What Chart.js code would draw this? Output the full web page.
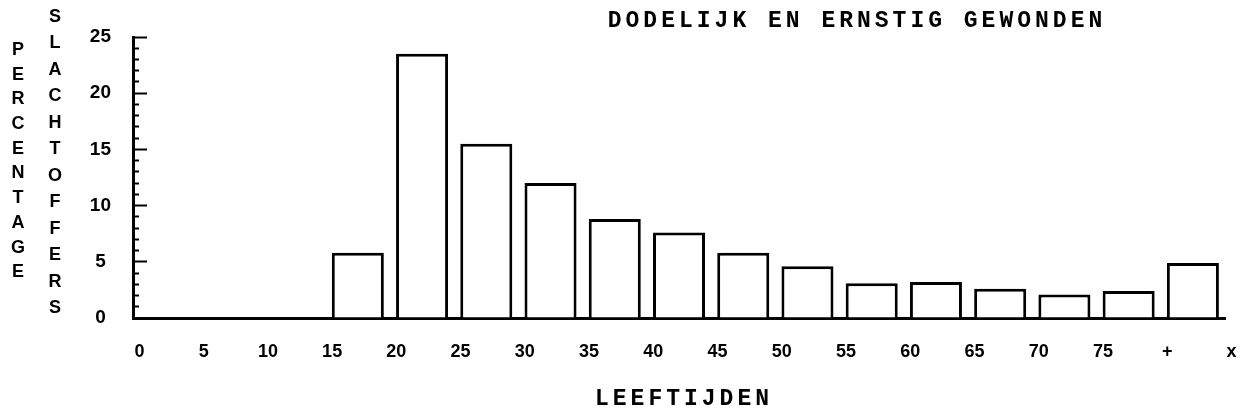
<!DOCTYPE html>
<html>
<head>
<meta charset="utf-8">
<script src="https://cdn.jsdelivr.net/npm/chart.js@4.4.1/dist/chart.umd.min.js"></script>
<style>
  html, body { margin: 0; padding: 0; background: #fff; }
</style>
</head>
<body>
<canvas id="myChart" width="1245" height="419"></canvas>
<script>
// age groups (5-year bins) and share of killed / seriously injured, in %
const ageGroups = ['0-4', '5-9', '10-14', '15-19', '20-24', '25-29', '30-34', '35-39', '40-44',
                   '45-49', '50-54', '55-59', '60-64', '65-69', '70-74', '75-79', '80+'];
const percentages = [0, 0, 0, 5.8, 23.5, 15.5, 12.0, 8.8, 7.6, 5.8, 4.6, 3.1, 3.2, 2.6, 2.1, 2.4, 4.9];

// tick labels on the bin edges
const xTickValues = [0, 5, 10, 15, 20, 25, 30, 35, 40, 45, 50, 55, 60, 65, 70, 75, 80, 85];
const xTickLabels = ['0', '5', '10', '15', '20', '25', '30', '35', '40', '45', '50', '55', '60', '65', '70', '75', '+', 'x'];

const chartTitle = 'DODELIJK EN ERNSTIG GEWONDEN';
const xTitle = 'LEEFTIJDEN';
const yTitleLeft = 'PERCENTAGE';
const yTitleRight = 'SLACHTOFFERS';

// titles: letter-spaced typewriter style and stacked vertical letters
const textPlugin = {
  id: 'textLabels',
  afterDraw(chart) {
    const ctx = chart.ctx;
    ctx.save();
    ctx.fillStyle = '#000';
    ctx.textAlign = 'center';
    ctx.textBaseline = 'middle';
    ctx.font = 'bold 18px "Liberation Sans", Arial, sans-serif';
    yTitleLeft.split('').forEach((ch, i) => ctx.fillText(ch, 18, 50 + i * 24.7));
    yTitleRight.split('').forEach((ch, i) => ctx.fillText(ch, 55, 17 + i * 26.5));
    ctx.font = 'bold 23px "Liberation Mono", monospace';
    ctx.letterSpacing = '4px';
    ctx.fillText(chartTitle, 857, 21);
    ctx.fillText(xTitle, 684, 399);
    ctx.restore();
  }
};

const ctx = document.getElementById('myChart').getContext('2d');
const chart = new Chart(ctx, {
  type: 'bar',
  data: {
    labels: ageGroups,
    datasets: [{
      data: percentages,
      xAxisID: 'xb',
      yAxisID: 'y',
      backgroundColor: '#fff',
      borderColor: '#000',
      borderWidth: 3,
      borderSkipped: 'start',
      categoryPercentage: 1,
      barPercentage: 0.81
    }]
  },
  options: {
    responsive: false,
    animation: false,
    layout: { padding: { top: 37, right: 20, bottom: 0, left: 0 } },
    plugins: {
      legend: { display: false },
      tooltip: { enabled: false },
      title: { display: false }
    },
    scales: {
      xb: {
        type: 'category',
        display: false,
        offset: true
      },
      x: {
        type: 'linear',
        position: 'bottom',
        min: -0.5,
        max: 84.5,
        offset: false,
        z: 1,
        // invisible tick marks only push the labels down
        grid: { display: false, drawTicks: true, tickLength: 23 },
        border: { display: true, color: '#000', width: 3 },
        afterBuildTicks: (scale) => { scale.ticks = xTickValues.map(v => ({ value: v })); },
        afterFit: (scale) => { scale.height = 101; },
        ticks: {
          autoSkip: false,
          maxRotation: 0,
          padding: 0,
          color: '#000',
          font: { family: '"Liberation Sans", Arial, sans-serif', size: 18, weight: 'bold' },
          callback: (value, index) => xTickLabels[index]
        }
      },
      y: {
        position: 'left',
        min: 0,
        max: 25,
        afterFit: (scale) => {
          scale.width = 133;
          scale.paddingTop = 0;
          scale.paddingBottom = 0;
        },
        grid: {
          display: true,
          drawOnChartArea: false,
          drawTicks: true,
          tickLength: -14,
          tickWidth: 2,
          tickColor: '#000',
          // minor ticks only show their part next to the axis
          tickBorderDash: (c) => (c.tick && c.tick.value % 5 === 0) ? [] : [10, 8],
          tickBorderDashOffset: (c) => (c.tick && c.tick.value % 5 === 0) ? 0 : 10
        },
        border: { display: true, color: '#000', width: 3 },
        ticks: {
          stepSize: 1,
          autoSkip: false,
          crossAlign: 'center',
          padding: 36,
          color: '#000',
          font: { family: '"Liberation Sans", Arial, sans-serif', size: 19, weight: 'bold' },
          callback: (value) => value % 5 === 0 ? String(value) : ''
        }
      }
    }
  },
  plugins: [textPlugin]
});
</script>
</body>
</html>
